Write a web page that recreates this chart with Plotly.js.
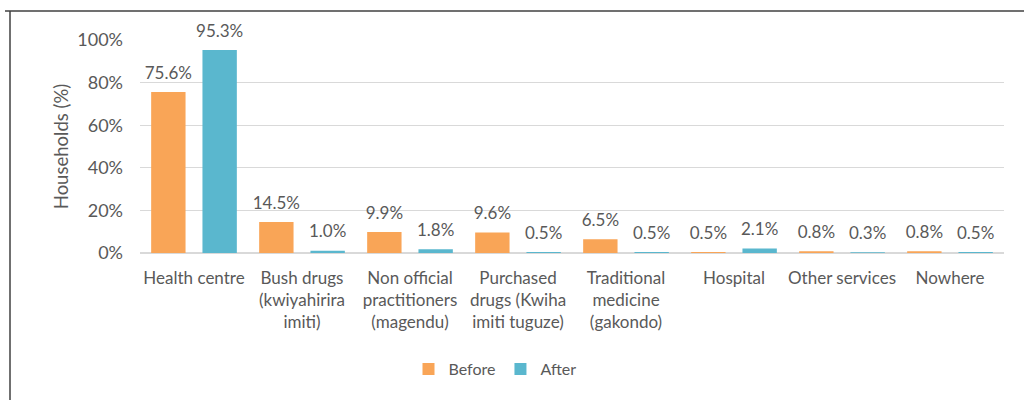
<!DOCTYPE html>
<html>
<head>
<meta charset="utf-8">
<script src="https://cdn.plot.ly/plotly-3.0.1.min.js"></script>
<style>html,body{margin:0;padding:0;background:#fff;}#chart{width:1024px;height:400px;}</style>
</head>
<body>
<div id="chart"></div>
<script>
const categories = [
  "Health centre",
  "Bush drugs<br>(kwiyahirira<br>imiti)",
  "Non official<br>practitioners<br>(magendu)",
  "Purchased<br>drugs (Kwiha<br>imiti tuguze)",
  "Traditional<br>medicine<br>(gakondo)",
  "Hospital",
  "Other services",
  "Nowhere"
];
const beforeValues = [75.6, 14.5, 9.9, 9.6, 6.5, 0.5, 0.8, 0.8];
const afterValues = [95.3, 1.0, 1.8, 0.5, 0.5, 2.1, 0.3, 0.5];
const seriesNames = ["Before", "After"];
const seriesColors = ["#F9A557", "#5AB7CE"];
const yTicks = [0, 20, 40, 60, 80, 100];

const FONT = "Lato, 'Open Sans', sans-serif";
const GREY = "#595959";
const series = [beforeValues, afterValues];

const traces = [];
series.forEach((vals, i) => {
  traces.push({type: "bar", name: seriesNames[i], x: categories, y: vals,
    offsetgroup: String(i), marker: {color: seriesColors[i]}, hoverinfo: "x+y"});
});
series.forEach((vals, i) => {
  traces.push({type: "scatter", mode: "markers+text", x: categories, y: vals,
    offsetgroup: String(i), showlegend: false, cliponaxis: false,
    marker: {size: 13, opacity: 0, color: seriesColors[i]},
    text: vals.map(v => v.toFixed(1) + "%"), textposition: "top center",
    textfont: {size: 17, color: GREY, family: FONT}, hoverinfo: "skip"});
});

const L = 140, R = 20, T = 40, B = 147;
const W = 1024 - L - R, H = 400 - T - B;
const px = x => (x - L) / W;
const py = y => (400 - B - y) / H;

const layout = {
  width: 1024, height: 400,
  margin: {l: L, r: R, t: T, b: B},
  paper_bgcolor: "#fff", plot_bgcolor: "#fff",
  font: {family: FONT, color: GREY, size: 14},
  barmode: "group", bargap: 0.05, bargroupgap: 0.33,
  scattermode: "group", scattergap: 0.05,
  xaxis: {tickfont: {size: 17, color: GREY}, showgrid: false, showline: false, ticks: "",
    ticklabelstandoff: 13, fixedrange: true},
  yaxis: {range: [0, 100], tickvals: yTicks, ticktext: yTicks.map(v => v + "%"),
    tickfont: {size: 18, color: GREY}, gridcolor: "#D9D9D9", gridwidth: 1,
    zeroline: true, zerolinecolor: "#D9D9D9", zerolinewidth: 1.5, showline: false, ticks: "",
    ticklabelstandoff: 16,
    title: {text: "Households (%)", font: {size: 18.5, color: GREY}, standoff: 3}, fixedrange: true},
  legend: {orientation: "h", x: px(495), xanchor: "center", y: py(369), yanchor: "middle",
    font: {size: 16, color: GREY}, itemwidth: 30, traceorder: "normal"},
  showlegend: true,
  shapes: [
    {type: "line", xref: "paper", yref: "paper", x0: px(10), x1: px(10), y0: py(11), y1: py(400), line: {color: "#404040", width: 1.5}},
    {type: "line", xref: "paper", yref: "paper", x0: px(5), x1: px(1024), y0: py(11), y1: py(11), line: {color: "#404040", width: 1.5}}
  ]
};

Plotly.newPlot("chart", traces, layout, {staticPlot: true, displayModeBar: false});
</script>
</body>
</html>
